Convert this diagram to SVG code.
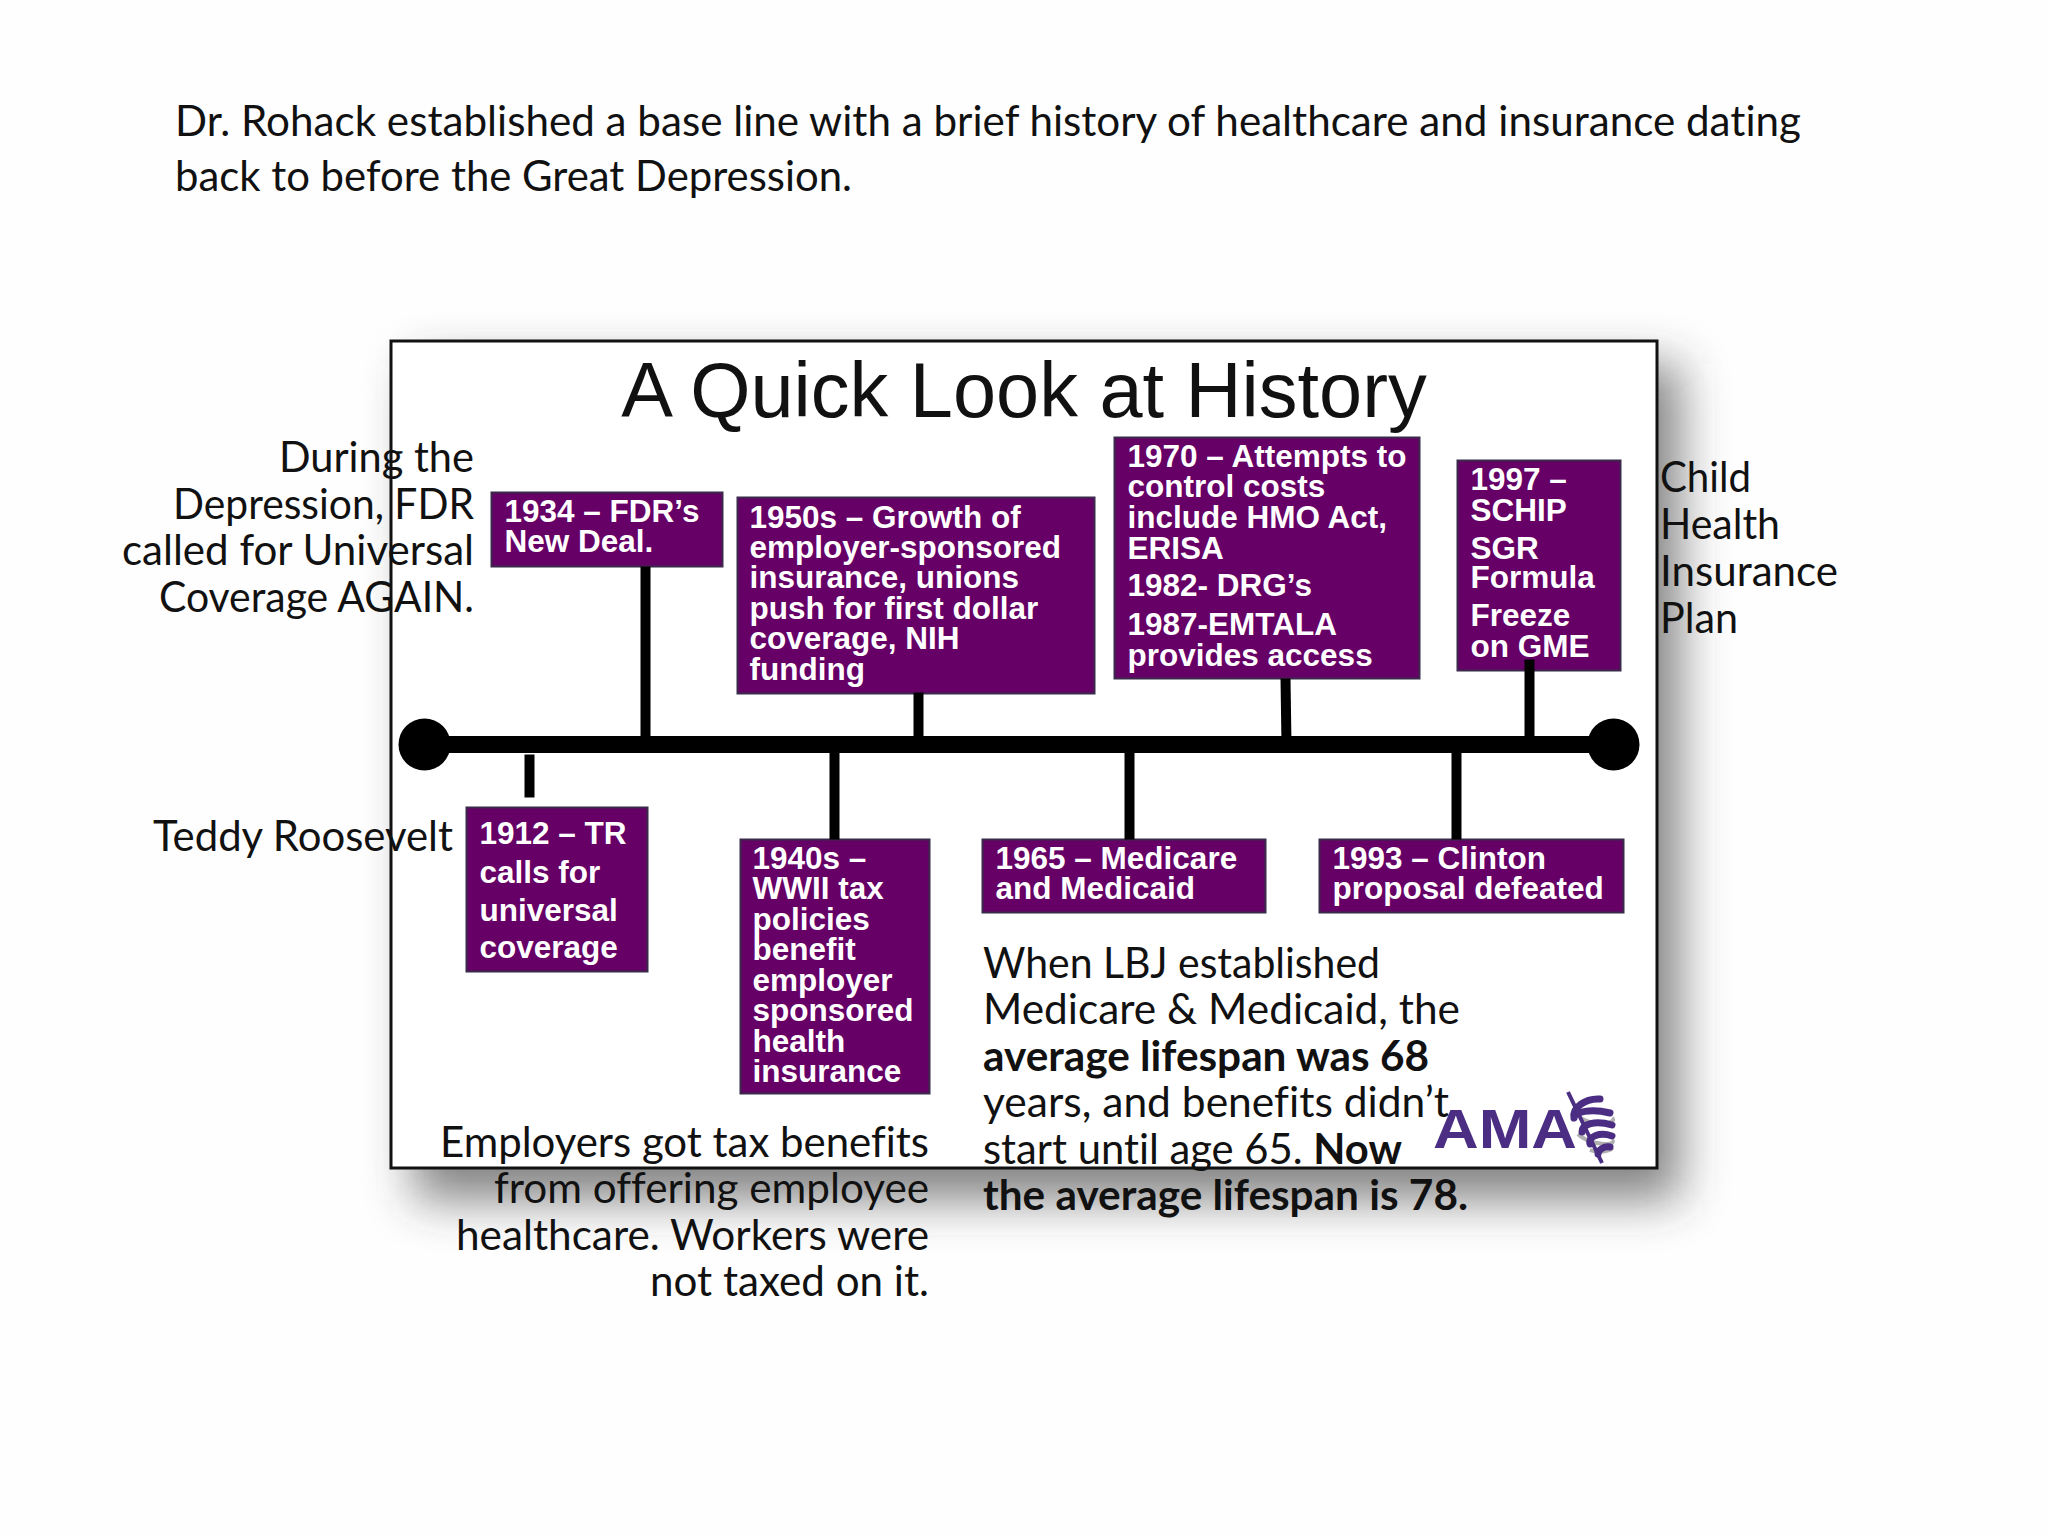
<svg xmlns="http://www.w3.org/2000/svg" width="2048" height="1536" viewBox="0 0 2048 1536">
<defs>
<filter id="sh" x="-15%" y="-15%" width="130%" height="130%"><feGaussianBlur stdDeviation="24"/></filter>
</defs>
<style>
.c{font-family:"Lato","Open Sans",sans-serif;font-size:42px;fill:#111;font-variant-ligatures:none}
.r{text-anchor:end}
.b{font-weight:700}
.w{font-family:"Liberation Sans",Arial,sans-serif;font-size:31.5px;font-weight:700;fill:#fff}
.box{fill:#660066;stroke:#3a2a4a;stroke-width:2}
.ln{stroke:#000;stroke-width:10;fill:none}
.s{fill:none;stroke:#4b2e83;stroke-width:7;stroke-linecap:round}
.g{fill:none;stroke:#b0b0b0;stroke-width:4}
</style>
<rect width="2048" height="1536" fill="#fefefe"/>
<text class="c" x="175" y="136" textLength="1626" lengthAdjust="spacingAndGlyphs">Dr. Rohack established a base line with a brief history of healthcare and insurance dating</text>
<text class="c" x="175" y="191" textLength="677" lengthAdjust="spacingAndGlyphs">back to before the Great Depression.</text>
<g id="slide">
<rect x="414" y="364" width="1266" height="836" fill="#333" opacity="0.6" filter="url(#sh)"/>
<rect x="391" y="341" width="1266" height="827" fill="#fff" stroke="#111" stroke-width="3"/>
<text x="1024" y="417" text-anchor="middle" font-family="Liberation Sans,Arial,sans-serif" font-size="77.5" fill="#111">A Quick Look at History</text>
</g>
<g id="n1934" transform="translate(-0.5 -0.5)"><rect class="box" x="492" y="493" width="231" height="74"/>
<text class="w" x="505" y="522">1934 – FDR’s</text><text class="w" x="505" y="552">New Deal.</text></g>
<g id="n1950" transform="translate(-0.5 -0.5)"><rect class="box" x="738" y="498" width="357" height="196"/>
<text class="w" x="750" y="528">1950s – Growth of</text><text class="w" x="750" y="558">employer-sponsored</text><text class="w" x="750" y="588">insurance, unions</text><text class="w" x="750" y="619">push for first dollar</text><text class="w" x="750" y="649">coverage, NIH</text><text class="w" x="750" y="680">funding</text></g>
<g id="n1970" transform="translate(-0.5 -0.5)"><rect class="box" x="1115" y="438" width="305" height="241"/>
<text class="w" x="1128" y="467">1970 – Attempts to</text><text class="w" x="1128" y="497">control costs</text><text class="w" x="1128" y="528">include HMO Act,</text><text class="w" x="1128" y="559">ERISA</text><text class="w" x="1128" y="596">1982- DRG’s</text><text class="w" x="1128" y="635">1987-EMTALA</text><text class="w" x="1128" y="666">provides access</text></g>
<g id="n1997" transform="translate(-0.5 -0.5)"><rect class="box" x="1458" y="461" width="163" height="210"/>
<text class="w" x="1471" y="490">1997 –</text><text class="w" x="1471" y="521">SCHIP</text><text class="w" x="1471" y="559">SGR</text><text class="w" x="1471" y="588">Formula</text><text class="w" x="1471" y="626">Freeze</text><text class="w" x="1471" y="657">on GME</text></g>
<g id="n1912" transform="translate(-0.5 -0.5)"><rect class="box" x="467" y="808" width="181" height="164"/>
<text class="w" x="480" y="844">1912 – TR</text><text class="w" x="480" y="883">calls for</text><text class="w" x="480" y="921">universal</text><text class="w" x="480" y="958">coverage</text></g>
<g id="n1940" transform="translate(-0.5 -0.5)"><rect class="box" x="741" y="840" width="189" height="254"/>
<text class="w" x="753" y="869">1940s –</text><text class="w" x="753" y="899">WWII tax</text><text class="w" x="753" y="930">policies</text><text class="w" x="753" y="960">benefit</text><text class="w" x="753" y="991">employer</text><text class="w" x="753" y="1021">sponsored</text><text class="w" x="753" y="1052">health</text><text class="w" x="753" y="1082">insurance</text></g>
<g id="n1965" transform="translate(-0.5 -0.5)"><rect class="box" x="983" y="840" width="283" height="73"/>
<text class="w" x="996" y="869">1965 – Medicare</text><text class="w" x="996" y="899">and Medicaid</text></g>
<g id="n1993" transform="translate(-0.5 -0.5)"><rect class="box" x="1320" y="840" width="304" height="73"/>
<text class="w" x="1333" y="869">1993 – Clinton</text><text class="w" x="1333" y="899">proposal defeated</text></g>
<g id="connectors" transform="translate(-0.5 -0.5)">
<line x1="425" y1="745" x2="1615" y2="745" stroke="#000" stroke-width="17"/>
<circle cx="425" cy="745" r="26"/>
<circle cx="1614" cy="745" r="26"/>
<line class="ln" x1="646" y1="567" x2="646" y2="745"/>
<line class="ln" x1="919" y1="693" x2="919" y2="745"/>
<line class="ln" x1="1286" y1="679" x2="1287" y2="745"/>
<line class="ln" x1="1530" y1="660" x2="1530" y2="745"/>
<line class="ln" x1="530" y1="755" x2="530" y2="798"/>
<line class="ln" x1="835" y1="745" x2="835" y2="840"/>
<line class="ln" x1="1130" y1="745" x2="1130" y2="840"/>
<line class="ln" x1="1457" y1="745" x2="1457" y2="840"/>
</g>
<g id="ama">
<text x="1433" y="1148" font-family="Liberation Sans,Arial,sans-serif" font-size="56" font-weight="700" fill="#4b2e83" textLength="144" lengthAdjust="spacingAndGlyphs">AMA</text>
<path class="g" d="M1580 1118C1600 1128 1618 1122 1612 1118M1578 1134C1590 1146 1618 1146 1612 1140M1590 1150C1600 1154 1612 1150 1612 1148"/>
<path d="M1568 1092L1602 1163" stroke="#4b2e83" stroke-width="4" fill="none"/>
<path class="s" d="M1600 1099C1585 1098 1572 1108 1574 1118M1610 1113C1590 1108 1575 1112 1574 1118M1612 1125C1595 1120 1582 1124 1582 1132M1612 1136C1600 1132 1588 1136 1590 1144M1610 1147C1604 1146 1598 1150 1598 1154"/>
</g>
<g id="notes">
<text class="c r" x="474" y="472" textLength="195" lengthAdjust="spacingAndGlyphs">During the</text><text class="c r" x="474" y="519" textLength="301" lengthAdjust="spacingAndGlyphs">Depression, FDR</text><text class="c r" x="474" y="565" textLength="352" lengthAdjust="spacingAndGlyphs">called for Universal</text><text class="c r" x="474" y="612" textLength="315" lengthAdjust="spacingAndGlyphs">Coverage AGAIN.</text>
<text class="c r" x="453" y="851" textLength="300" lengthAdjust="spacingAndGlyphs">Teddy Roosevelt</text>
<text class="c" x="1660" y="492" textLength="91" lengthAdjust="spacingAndGlyphs">Child</text><text class="c" x="1660" y="539" textLength="120" lengthAdjust="spacingAndGlyphs">Health</text><text class="c" x="1660" y="586" textLength="178" lengthAdjust="spacingAndGlyphs">Insurance</text><text class="c" x="1660" y="633" textLength="78" lengthAdjust="spacingAndGlyphs">Plan</text>
<text class="c r" x="929" y="1157" textLength="489" lengthAdjust="spacingAndGlyphs">Employers got tax benefits</text><text class="c r" x="929" y="1203" textLength="435" lengthAdjust="spacingAndGlyphs">from offering employee</text><text class="c r" x="929" y="1250" textLength="473" lengthAdjust="spacingAndGlyphs">healthcare. Workers were</text><text class="c r" x="929" y="1296" textLength="279" lengthAdjust="spacingAndGlyphs">not taxed on it.</text>
<text class="c" x="983" y="978" textLength="397" lengthAdjust="spacingAndGlyphs">When LBJ established</text><text class="c" x="983" y="1024" textLength="477" lengthAdjust="spacingAndGlyphs">Medicare &amp; Medicaid, the</text><text class="c b" x="983" y="1071" textLength="446" lengthAdjust="spacingAndGlyphs">average lifespan was 68</text><text class="c" x="983" y="1117" textLength="466" lengthAdjust="spacingAndGlyphs">years, and benefits didn’t</text><text class="c" x="983" y="1164" textLength="419" lengthAdjust="spacingAndGlyphs">start until age 65. <tspan class="b">Now</tspan></text><text class="c b" x="983" y="1210" textLength="485" lengthAdjust="spacingAndGlyphs">the average lifespan is 78.</text>
</g>
</svg>
